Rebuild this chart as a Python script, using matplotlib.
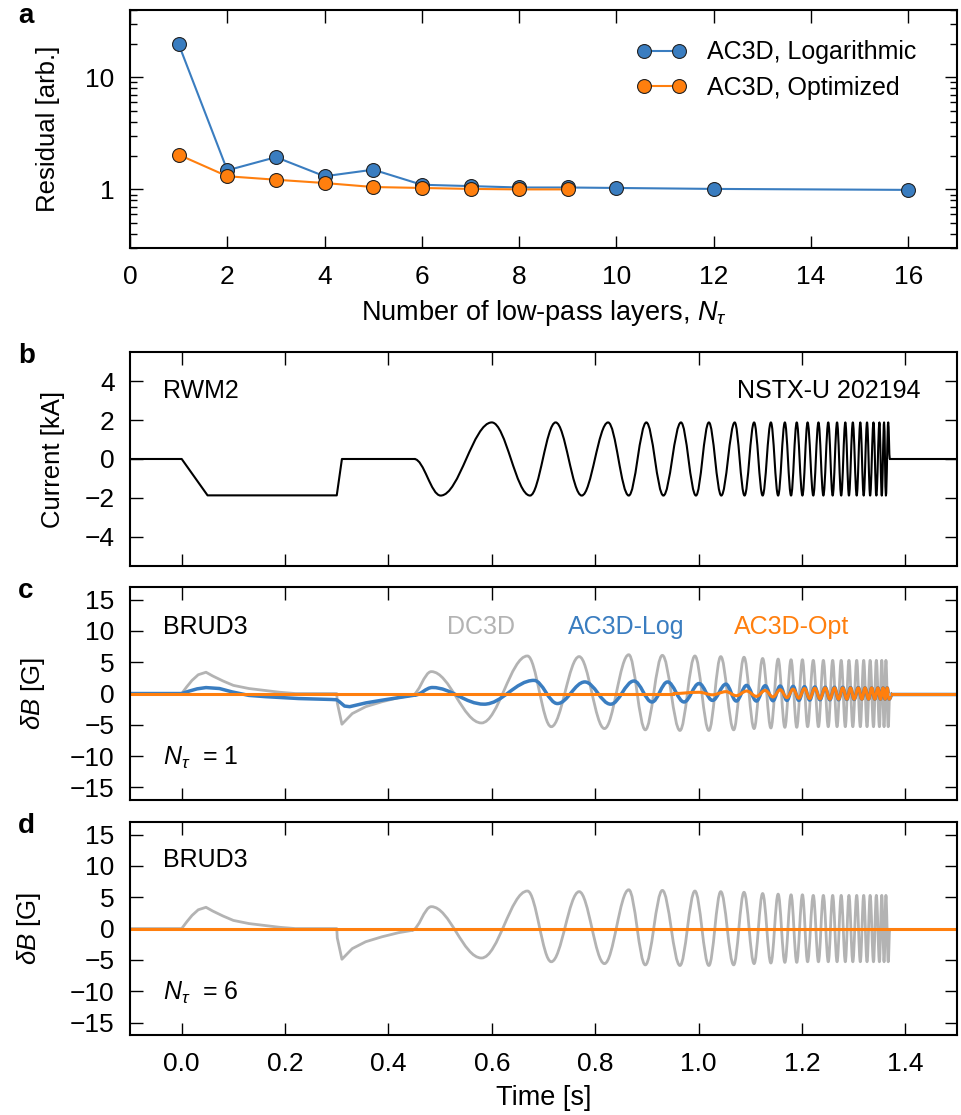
import numpy as np
import matplotlib
matplotlib.use('Agg')
import matplotlib.pyplot as plt
from matplotlib.path import Path
from matplotlib.patches import PathPatch
from matplotlib.ticker import NullFormatter

plt.rcParams['font.family'] = ['Liberation Sans', 'DejaVu Sans']
plt.rcParams['mathtext.fontset'] = 'custom'
plt.rcParams['mathtext.rm'] = 'Liberation Sans'
plt.rcParams['mathtext.it'] = 'Liberation Sans:italic'
plt.rcParams['font.size'] = 18

blue = '#3a7dc0'
orange = '#ff7f0e'
gray = '#b3b3b3'

# panel a: residual vs number of low-pass layers
layers_log = [1, 2, 3, 4, 5, 6, 7, 8, 9, 10, 12, 16]
residual_log = [19.8, 1.48, 1.94, 1.31, 1.50, 1.10, 1.07, 1.04, 1.04, 1.03, 1.01, 0.99]
layers_opt = [1, 2, 3, 4, 5, 6, 7, 8, 9]
residual_opt = [2.04, 1.31, 1.22, 1.14, 1.05, 1.03, 1.01, 1.0, 1.0]

# panel b: RWM2 coil current [kA]; ramp part, then turning points of the sweep
cur_ramp_t = [-0.1, 0.0, 0.05, 0.30, 0.31, 0.45]
cur_ramp_v = [0, 0, -1.87, -1.87, 0, 0]
cur_ext_t = [0.45, 0.501, 0.600, 0.674, 0.7235, 0.774, 0.825, 0.865,
             0.899, 0.932, 0.966, 0.995, 1.020, 1.044, 1.070, 1.089,
             1.1075, 1.124, 1.140, 1.154, 1.167, 1.179, 1.190, 1.201,
             1.211, 1.222, 1.232, 1.2415, 1.251, 1.2595, 1.268, 1.276,
             1.284, 1.291, 1.2985, 1.306, 1.313, 1.3195, 1.326, 1.332,
             1.3385, 1.344, 1.350, 1.3545, 1.359, 1.3625, 1.367, 1.370]
cur_ext_v = [0, -1.88, 1.88, -1.88, 1.88, -1.88, 1.88, -1.88,
             1.88, -1.88, 1.88, -1.88, 1.88, -1.88, 1.88, -1.88,
             1.88, -1.88, 1.88, -1.88, 1.88, -1.88, 1.88, -1.88,
             1.88, -1.88, 1.88, -1.88, 1.88, -1.88, 1.88, -1.88,
             1.88, -1.88, 1.88, -1.88, 1.88, -1.88, 1.88, -1.88,
             1.88, -1.88, 1.88, -1.88, 1.88, -1.88, 1.88, 0]
cur_tail_t = [1.370, 1.5]
cur_tail_v = [0, 0]

# panels c, d: BRUD3 dB [G], DC3D compensation
dc_line_t = [-0.1, 0.0, 0.01, 0.02, 0.032, 0.047, 0.06, 0.08, 0.10, 0.13,
             0.16, 0.19, 0.22, 0.30, 0.301, 0.310, 0.33, 0.356, 0.388, 0.42, 0.445]
dc_line_v = [0, 0, 1.1, 2.1, 3.0, 3.4, 2.8, 2.0, 1.3, 0.8,
             0.5, 0.2, 0.0, 0.0, -1.5, -4.9, -3.2, -2.1, -1.3, -0.65, -0.3]
dc_ext_t = [0.445, 0.483, 0.580, 0.669, 0.715, 0.769, 0.818, 0.865,
            0.897, 0.930, 0.964, 0.993, 1.020, 1.043, 1.068, 1.088,
            1.1075, 1.124, 1.140, 1.154, 1.167, 1.179, 1.190, 1.201,
            1.211, 1.222, 1.232, 1.2415, 1.251, 1.2595, 1.268, 1.276,
            1.284, 1.291, 1.2985, 1.306, 1.313, 1.3195, 1.326, 1.332,
            1.3385, 1.344, 1.350, 1.3545, 1.359, 1.3625, 1.367, 1.370]
dc_ext_v = [-0.3, 3.5, -4.7, 6.0, -5.3, 5.9, -5.6, 6.2,
            -5.8, 6.1, -5.9, 6.0, -5.9, 5.9, -5.8, 5.8,
            -5.6, 5.6, -5.5, 5.5, -5.4, 5.4, -5.4, 5.4,
            -5.3, 5.3, -5.3, 5.3, -5.3, 5.3, -5.3, 5.3,
            -5.3, 5.3, -5.3, 5.3, -5.3, 5.3, -5.3, 5.3,
            -5.3, 5.3, -5.3, 5.3, -5.3, 5.3, -5.3, 0]
dc_tail_t = [1.370, 1.5]
dc_tail_v = [0, 0]

# AC3D-Log, N_tau = 1
log_line_t = [-0.1, 0.0, 0.015, 0.03, 0.047, 0.073, 0.097, 0.13, 0.162, 0.226,
              0.29, 0.30, 0.305, 0.315, 0.325, 0.356, 0.387, 0.42, 0.45]
log_line_v = [0, 0, 0.4, 0.75, 0.95, 0.8, 0.27, -0.3, -0.5, -0.8,
              -0.95, -1.0, -1.3, -2.0, -2.1, -1.5, -1.07, -0.65, -0.27]
log_ext_t = [0.45, 0.485, 0.585, 0.6815, 0.727, 0.780, 0.830, 0.875,
             0.910, 0.940, 0.972, 1.001, 1.027, 1.053, 1.073, 1.093,
             1.112, 1.129, 1.144, 1.158, 1.171, 1.183, 1.194, 1.205,
             1.215, 1.225, 1.235, 1.245, 1.254, 1.263, 1.271, 1.279,
             1.287, 1.294, 1.301, 1.309, 1.316, 1.322, 1.329, 1.335,
             1.341, 1.347, 1.352, 1.357, 1.361, 1.365, 1.369, 1.375]
log_ext_v = [-0.27, 0.96, -1.7, 2.1, -1.6, 1.85, -1.7, 2.0,
             -1.35, 1.85, -1.35, 1.6, -1.1, 1.5, -1.2, 1.3,
             -1.2, 1.25, -1.15, 1.2, -1.1, 1.15, -1.1, 1.1,
             -1.05, 1.05, -1.0, 1.0, -1.0, 1.0, -1.0, 1.0,
             -0.95, 0.95, -0.95, 0.95, -0.9, 0.9, -0.9, 0.9,
             -0.9, 0.9, -0.9, 0.9, -0.9, 0.9, -0.9, 0]
log_tail_t = [1.375, 1.5]
log_tail_v = [0, 0]

# AC3D-Opt, N_tau = 1
opt_line_t = [-0.1, 0.95]
opt_line_v = [0, 0]
opt_ext_t = [0.95, 1.001, 1.027, 1.053, 1.073, 1.093, 1.112, 1.129,
             1.144, 1.158, 1.171, 1.183, 1.194, 1.205, 1.215, 1.225,
             1.235, 1.245, 1.254, 1.263, 1.271, 1.279, 1.287, 1.294,
             1.301, 1.309, 1.316, 1.322, 1.329, 1.335, 1.341, 1.347,
             1.352, 1.357, 1.361, 1.365, 1.369, 1.375]
opt_ext_v = [0, 0.2, -0.2, 0.3, -0.35, 0.4, -0.45, 0.5,
             -0.55, 0.6, -0.65, 0.7, -0.75, 0.8, -0.8, 0.85,
             -0.85, 0.9, -0.9, 0.9, -0.9, 0.9, -0.9, 0.9,
             -0.9, 0.9, -0.9, 0.9, -0.9, 0.9, -0.9, 0.9,
             -0.9, 0.9, -0.9, 0.9, -0.9, 0]
opt_tail_t = [1.375, 1.5]
opt_tail_v = [0, 0]

# AC3D-Opt, N_tau = 6
opt6_t = [-0.1, 1.5]
opt6_v = [0, 0]


def wave(ax, t, v, **kw):
    # smooth curve through turning points (flat tangent at each knot)
    a = 1 - 2 / np.pi
    verts = [(t[0], v[0])]
    codes = [Path.MOVETO]
    for i in range(len(t) - 1):
        dt = t[i + 1] - t[i]
        verts += [(t[i] + a * dt, v[i]), (t[i + 1] - a * dt, v[i + 1]), (t[i + 1], v[i + 1])]
        codes += [Path.CURVE4] * 3
    ax.add_patch(PathPatch(Path(verts, codes), fill=False, joinstyle='round', **kw))


def style(ax):
    ax.tick_params(which='both', direction='in', top=True, right=True, width=1, labelsize=19)
    ax.tick_params(which='major', length=9)
    ax.tick_params(which='minor', length=5)
    ax.tick_params(axis='x', pad=12)
    ax.tick_params(axis='y', pad=11)
    for s in ax.spines.values():
        s.set_linewidth(1.5)


fig = plt.figure(figsize=(9.61, 11.15), dpi=100)
ax_a = fig.add_axes([0.1353, 0.7776, 0.8605, 0.2135])
ax_b = fig.add_axes([0.1353, 0.4924, 0.8605, 0.1919])
ax_c = fig.add_axes([0.1353, 0.2825, 0.8605, 0.1910])
ax_d = fig.add_axes([0.1353, 0.0717, 0.8605, 0.1910])

# a
ax_a.plot(layers_log, residual_log, '-o', color=blue, lw=1.5, ms=10, mfc=blue, mec='#222222', mew=0.8,
          label='AC3D, Logarithmic')
ax_a.plot(layers_opt, residual_opt, '-o', color=orange, lw=1.5, ms=10, mfc=orange, mec='#222222', mew=0.8,
          label='AC3D, Optimized')
ax_a.set_yscale('log')
ax_a.set_xlim(0, 17)
ax_a.set_ylim(0.3, 40)
ax_a.set_xticks(range(0, 17, 2))
ax_a.set_yticks([1, 10])
ax_a.set_yticklabels(['1', '10'])
ax_a.yaxis.set_minor_formatter(NullFormatter())
ax_a.set_xlabel(r'Number of low-pass layers, $N_\tau$', fontsize=19.5, labelpad=7)
ax_a.set_ylabel('Residual [arb.]', fontsize=18.5)
ax_a.legend(loc='upper left', bbox_to_anchor=(0.612, 0.872), frameon=False, numpoints=2,
            handlelength=2.0, handletextpad=0.85, labelspacing=0.45, borderpad=0, borderaxespad=0)
style(ax_a)

# b
ax_b.plot(cur_ramp_t, cur_ramp_v, color='k', lw=1.5)
wave(ax_b, cur_ext_t, cur_ext_v, edgecolor='k', lw=1.5)
ax_b.plot(cur_tail_t, cur_tail_v, color='k', lw=1.5)
ax_b.set_ylim(-5.5, 5.5)
ax_b.set_yticks([-4, -2, 0, 2, 4])
ax_b.set_ylabel('Current [kA]', fontsize=18.5)
ax_b.text(0.04, 0.818, 'RWM2', transform=ax_b.transAxes, va='center', ha='left')
ax_b.text(0.956, 0.818, 'NSTX-U 202194', transform=ax_b.transAxes, va='center', ha='right')

# c
ax_c.plot(dc_line_t, dc_line_v, color=gray, lw=2)
wave(ax_c, dc_ext_t, dc_ext_v, edgecolor=gray, lw=2)
ax_c.plot(dc_tail_t, dc_tail_v, color=gray, lw=2)
ax_c.plot(log_line_t, log_line_v, color=blue, lw=2.5)
wave(ax_c, log_ext_t, log_ext_v, edgecolor=blue, lw=2.5)
ax_c.plot(log_tail_t, log_tail_v, color=blue, lw=2.5)
ax_c.plot(opt_line_t, opt_line_v, color=orange, lw=2.2)
wave(ax_c, opt_ext_t, opt_ext_v, edgecolor=orange, lw=2.2)
ax_c.plot(opt_tail_t, opt_tail_v, color=orange, lw=2.2)
ax_c.text(0.04, 0.812, 'BRUD3', transform=ax_c.transAxes, va='center', ha='left')
ax_c.text(0.04, 0.197, r'$N_\tau$  = 1', transform=ax_c.transAxes, va='center', ha='left')
ax_c.text(0.383, 0.812, 'DC3D', color=gray, transform=ax_c.transAxes, va='center', ha='left')
ax_c.text(0.530, 0.812, 'AC3D-Log', color=blue, transform=ax_c.transAxes, va='center', ha='left')
ax_c.text(0.730, 0.812, 'AC3D-Opt', color=orange, transform=ax_c.transAxes, va='center', ha='left')

# d
ax_d.plot(dc_line_t, dc_line_v, color=gray, lw=2)
wave(ax_d, dc_ext_t, dc_ext_v, edgecolor=gray, lw=2)
ax_d.plot(dc_tail_t, dc_tail_v, color=gray, lw=2)
ax_d.plot(opt6_t, opt6_v, color=orange, lw=2.2)
ax_d.text(0.04, 0.822, 'BRUD3', transform=ax_d.transAxes, va='center', ha='left')
ax_d.text(0.04, 0.197, r'$N_\tau$  = 6', transform=ax_d.transAxes, va='center', ha='left')
ax_d.set_xlabel('Time [s]', fontsize=19.5, labelpad=7)

for ax in [ax_c, ax_d]:
    ax.set_ylim(-17, 17)
    ax.set_yticks([-15, -10, -5, 0, 5, 10, 15])
    ax.set_ylabel(r'$\delta B$ [G]', fontsize=18.5)

for ax in [ax_b, ax_c, ax_d]:
    ax.set_xlim(-0.1, 1.5)
    ax.set_xticks([0.0, 0.2, 0.4, 0.6, 0.8, 1.0, 1.2, 1.4])
    style(ax)
for ax in [ax_b, ax_c]:
    ax.set_xticklabels([])
ax_d.set_xticklabels(['0.0', '0.2', '0.4', '0.6', '0.8', '1.0', '1.2', '1.4'])

ax_a.yaxis.set_label_coords(-0.0846, 0.5)
ax_b.yaxis.set_label_coords(-0.0786, 0.5)
ax_c.yaxis.set_label_coords(-0.100, 0.5)
ax_d.yaxis.set_label_coords(-0.105, 0.5)

for letter, yb in [('a', 23), ('b', 363), ('c', 598), ('d', 833)]:
    fig.text(18 / 961, 1 - yb / 1115, letter, fontsize=20, fontweight='bold', va='baseline', ha='left')

fig.savefig('out.png', dpi=100)
